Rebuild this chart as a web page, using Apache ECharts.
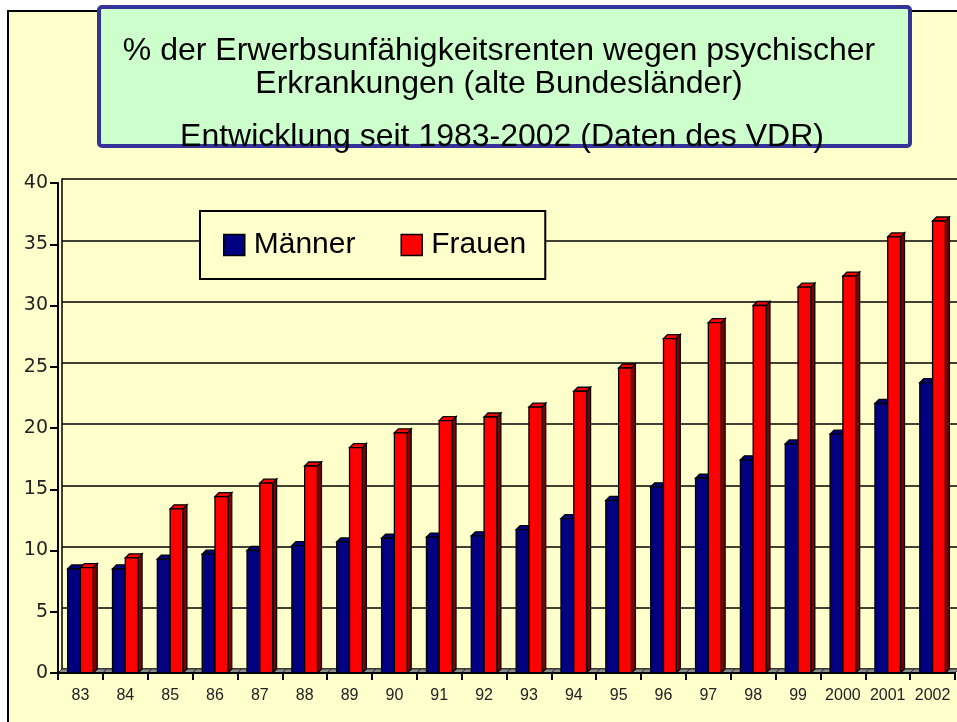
<!DOCTYPE html>
<html>
<head>
<meta charset="utf-8">
<script src="https://cdn.jsdelivr.net/npm/echarts@6/dist/echarts.min.js"></script>
<style>html,body{margin:0;padding:0;background:#fff}#c{width:957px;height:722px}</style>
</head>
<body>
<div id="c"></div>
<script>
const years = ['83','84','85','86','87','88','89','90','91','92','93','94','95','96','97','98','99','2000','2001','2002'];
const maenner = [8.5, 8.5, 9.3, 9.7, 10.0, 10.4, 10.7, 11.0, 11.1, 11.2, 11.7, 12.6, 14.1, 15.2, 15.9, 17.4, 18.7, 19.5, 22.0, 23.7];
const frauen = [8.6, 9.4, 13.4, 14.4, 15.5, 16.9, 18.4, 19.6, 20.6, 20.9, 21.7, 23.0, 24.9, 27.3, 28.6, 30.0, 31.5, 32.4, 35.6, 36.9];
const titleLines = ['% der Erwerbsunfähigkeitsrenten wegen psychischer', 'Erkrankungen (alte Bundesländer)', 'Entwicklung seit 1983-2002 (Daten des VDR)'];
const seriesNames = ['Männer', 'Frauen'];
const yTicks = {min: 0, max: 40, interval: 5};

const D = 4; // 3D depth in px
const colors = [
  {front: '#000080', top: '#000080', side: '#00004a'},
  {front: '#ff0000', top: '#ff0000', side: '#800000'}
];

function makeRender(k) {
  return function (params, api) {
    const idx = api.value(0);
    const val = api.value(1);
    const base = api.coord([idx, 0]);
    const top = api.coord([idx, val]);
    const band = api.size([1, 0])[0];
    const bw = band * 0.285;
    const c = base[0];
    const x0 = k === 0 ? c - bw : c;
    const x1 = x0 + bw;
    const y0 = base[1], y1 = top[1];
    const col = colors[k];
    const st = {stroke: '#000', lineWidth: 1.3};
    const children = [];
    if (k === 0) {
      children.push({type: 'polygon', shape: {points: [[c - band / 2, y0], [c + band / 2, y0], [c + band / 2 + D, y0 - D], [c - band / 2 + D, y0 - D]]},
        style: {fill: '#8c8c8c', stroke: '#333', lineWidth: 1}});
    }
    children.push({type: 'polygon', shape: {points: [[x1, y1], [x1 + D, y1 - D], [x1 + D, y0 - D], [x1, y0]]},
      style: Object.assign({fill: col.side}, st)});
    children.push({type: 'polygon', shape: {points: [[x0, y1], [x1, y1], [x1 + D, y1 - D], [x0 + D, y1 - D]]},
      style: Object.assign({fill: col.top}, st)});
    children.push({type: 'rect', shape: {x: x0, y: y1, width: bw, height: y0 - y1},
      style: Object.assign({fill: col.front}, st)});
    return {type: 'group', children: children};
  };
}

const chart = echarts.init(document.getElementById('c'), null, {renderer: 'canvas'});
const option = {
  backgroundColor: '#ffffff',
  animation: false,
  graphic: [
    {type: 'rect', z: -100, shape: {x: 8, y: 11, width: 980, height: 740}, style: {fill: '#ffffcc', stroke: '#000', lineWidth: 2}},
    {type: 'rect', z: 100, shape: {x: 99, y: 7, width: 811, height: 139, r: 3}, style: {fill: '#ccffcc', stroke: '#333399', lineWidth: 4}},
    {type: 'text', z: 101, x: 499, y: 51, style: {text: titleLines[0], font: '32px "Liberation Sans", Arial, sans-serif', fill: '#000', align: 'center', verticalAlign: 'middle'}},
    {type: 'text', z: 101, x: 499, y: 84, style: {text: titleLines[1], font: '32px "Liberation Sans", Arial, sans-serif', fill: '#000', align: 'center', verticalAlign: 'middle'}},
    {type: 'text', z: 101, x: 502, y: 137, style: {text: titleLines[2], font: '32px "Liberation Sans", Arial, sans-serif', fill: '#000', align: 'center', verticalAlign: 'middle'}}
  ],
  legend: {
    data: seriesNames,
    left: 200, top: 211,
    padding: [19, 19, 19, 23],
    itemGap: 45,
    itemWidth: 21, itemHeight: 21,
    icon: 'rect',
    backgroundColor: '#ffffcc',
    borderColor: '#000', borderWidth: 2,
    itemStyle: {borderColor: '#000', borderWidth: 1.5},
    textStyle: {fontFamily: '"Liberation Sans", Arial, sans-serif', fontSize: 30, color: '#000', padding: [0, 0, 0, 4]},
    z: 10
  },
  grid: [
    {left: 58, right: 2, top: 183, bottom: 49, containLabel: false},
    {left: 62, right: -2, top: 179, bottom: 53, containLabel: false}
  ],
  xAxis: [
    {type: 'category', gridIndex: 0, data: years, boundaryGap: true,
      axisLine: {show: true, lineStyle: {color: '#000', width: 2}},
      axisTick: {show: true, length: 7, lineStyle: {color: '#000', width: 2}},
      axisLabel: {margin: 15, fontFamily: '"Liberation Sans", Arial, sans-serif', fontSize: 16, color: '#222', interval: 0},
      splitLine: {show: false}, z: 5},
    {type: 'category', gridIndex: 1, data: years, show: false}
  ],
  yAxis: [
    {type: 'value', gridIndex: 0, min: yTicks.min, max: yTicks.max, interval: yTicks.interval,
      axisLine: {show: true, lineStyle: {color: '#000', width: 2}},
      axisTick: {show: true, length: 8, lineStyle: {color: '#000', width: 2}},
      axisLabel: {margin: 10, fontFamily: '"DejaVu Sans", Verdana, sans-serif', fontSize: 19, color: '#222'},
      splitLine: {show: false}},
    {type: 'value', gridIndex: 1, min: yTicks.min, max: yTicks.max, interval: yTicks.interval,
      axisLine: {show: true, lineStyle: {color: '#000', width: 1.5}},
      axisTick: {show: false}, axisLabel: {show: false},
      splitLine: {show: true, lineStyle: {color: '#000', width: 1.6}}}
  ],
  series: [
    {name: seriesNames[0], type: 'custom', xAxisIndex: 0, yAxisIndex: 0, z: 2,
      itemStyle: {color: colors[0].front, borderColor: '#000', borderWidth: 1},
      renderItem: makeRender(0), encode: {x: 0, y: 1},
      data: maenner.map((v, i) => [i, v])},
    {name: seriesNames[1], type: 'custom', xAxisIndex: 0, yAxisIndex: 0, z: 3,
      itemStyle: {color: colors[1].front, borderColor: '#000', borderWidth: 1},
      renderItem: makeRender(1), encode: {x: 0, y: 1},
      data: frauen.map((v, i) => [i, v])}
  ]
};
chart.setOption(option);
</script>
</body>
</html>
